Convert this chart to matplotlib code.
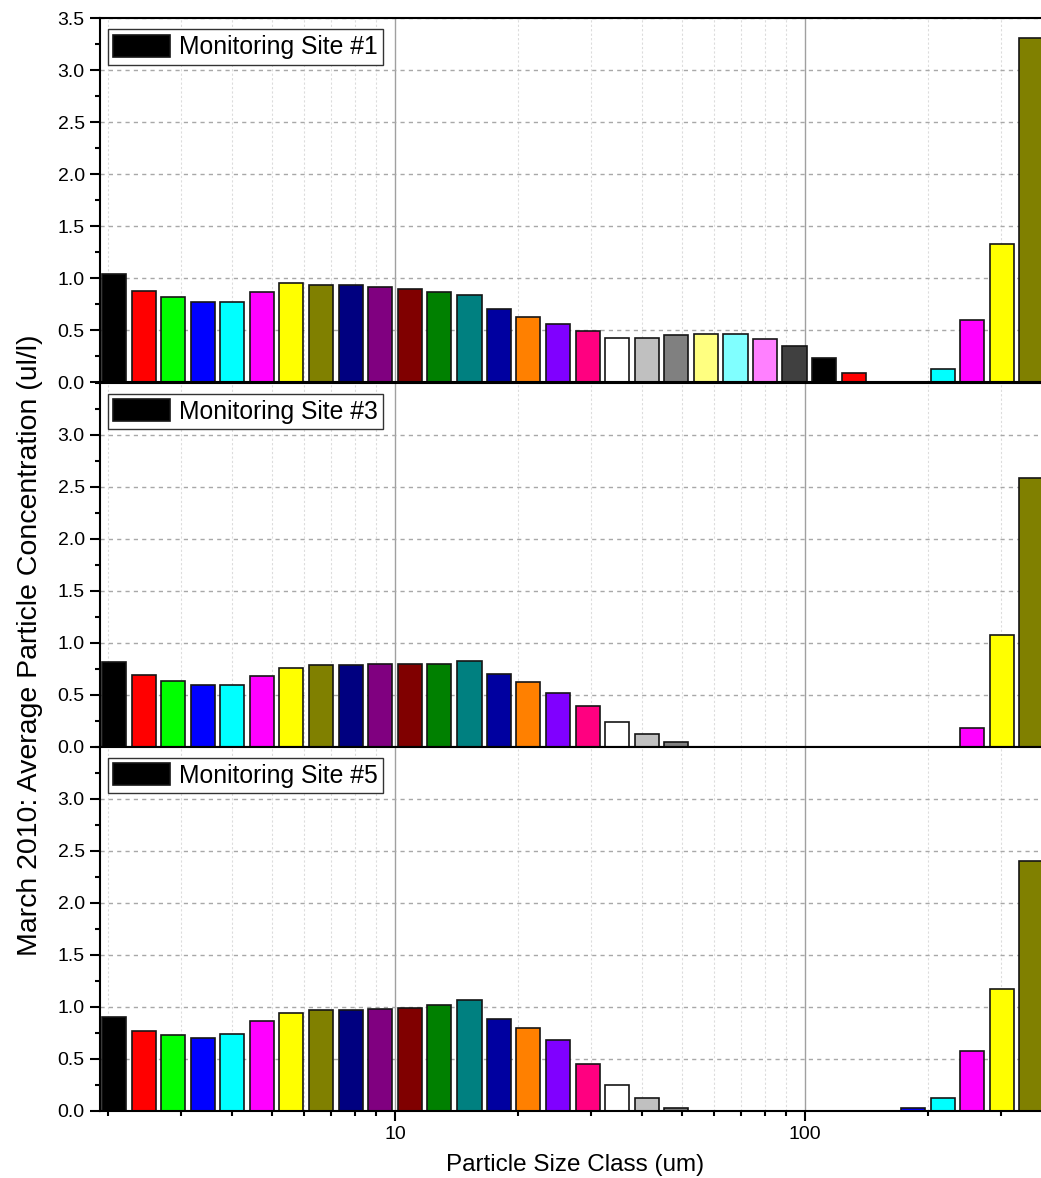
import numpy as np
import matplotlib.pyplot as plt
from matplotlib.ticker import MultipleLocator, LogLocator, NullFormatter

plt.rcParams['font.family'] = ['Liberation Sans', 'DejaVu Sans']

# size class midpoints (um)
size_um = [2.06, 2.44, 2.88, 3.40, 4.01, 4.74, 5.59, 6.61, 7.80, 9.21,
           10.9, 12.8, 15.2, 17.9, 21.1, 25.0, 29.5, 34.8, 41.1, 48.5,
           57.3, 67.7, 79.9, 94.3, 111, 132, 155, 183, 217, 256, 302, 356]

# average concentration (ul/l), March 2010
site1 = [1.04, 0.88, 0.82, 0.77, 0.77, 0.87, 0.95, 0.94, 0.94, 0.92,
         0.90, 0.87, 0.84, 0.70, 0.63, 0.56, 0.49, 0.43, 0.43, 0.45,
         0.46, 0.46, 0.42, 0.35, 0.23, 0.09, 0.0, 0.0, 0.13, 0.60, 1.33, 3.31]
site3 = [0.81, 0.69, 0.63, 0.59, 0.59, 0.68, 0.76, 0.79, 0.79, 0.80,
         0.80, 0.80, 0.82, 0.70, 0.62, 0.52, 0.39, 0.24, 0.12, 0.05,
         0.0, 0.0, 0.0, 0.0, 0.0, 0.0, 0.0, 0.0, 0.0, 0.18, 1.07, 2.58]
site5 = [0.90, 0.77, 0.73, 0.70, 0.74, 0.86, 0.94, 0.97, 0.97, 0.98,
         0.99, 1.02, 1.06, 0.88, 0.80, 0.68, 0.45, 0.25, 0.12, 0.03,
         0.0, 0.0, 0.0, 0.0, 0.0, 0.0, 0.0, 0.03, 0.12, 0.57, 1.17, 2.40]

sites = ["Monitoring Site #1", "Monitoring Site #3", "Monitoring Site #5"]

# Origin-style colour cycle
palette = ["#000000", "#FF0000", "#00FF00", "#0000FF", "#00FFFF", "#FF00FF",
           "#FFFF00", "#808000", "#000080", "#800080", "#800000", "#008000",
           "#008080", "#0000A0", "#FF8000", "#8000FF", "#FF0080", "#FFFFFF",
           "#C0C0C0", "#808080", "#FFFF80", "#80FFFF", "#FF80FF", "#404040"]
colors = [palette[i % len(palette)] for i in range(len(size_um))]

# bar width in decades
half = 0.0293
x = np.array(size_um)
left = x * 10 ** (-half)
width = x * 10 ** half - left

fig = plt.figure(figsize=(10.41, 11.78), dpi=100)

W, H = 1041, 1178
ax_left = 100 / W
ax_w = 950 / W
ax_h = 364 / H
bottoms = [1 - 382.3 / H, 1 - 746.7 / H, 1 - 1110.7 / H]

axes = []
for k, (name, vals) in enumerate(zip(sites, [site1, site3, site5])):
    ax = fig.add_axes([ax_left, bottoms[k], ax_w, ax_h])
    axes.append(ax)
    ax.bar(left, vals, width=width, align='edge', color=colors,
           edgecolor='#151515', linewidth=1.2, label=name, zorder=3)
    ax.set_xscale('log')
    ax.set_xlim(1.908, 396)
    ax.set_ylim(0, 3.5)

    if k == 0:
        ax.set_yticks(np.arange(0, 3.51, 0.5))
    else:
        ax.set_yticks(np.arange(0, 3.01, 0.5))
    ax.yaxis.set_minor_locator(MultipleLocator(0.25))
    ax.set_yticklabels(["%.1f" % t for t in ax.get_yticks()])

    ax.set_xticks([10, 100])
    ax.xaxis.set_minor_locator(LogLocator(base=10, subs=np.arange(2, 10)))
    ax.xaxis.set_minor_formatter(NullFormatter())
    if k == 2:
        ax.set_xticklabels(["10", "100"])
    else:
        ax.set_xticklabels([])

    ax.tick_params(axis='both', which='major', direction='out', length=7,
                   width=1.5, labelsize=14, pad=4)
    ax.tick_params(axis='both', which='minor', direction='out', length=3.5,
                   width=1.5)
    ax.tick_params(axis='y', which='both', right=False)
    ax.tick_params(axis='x', which='both', top=False)

    ax.grid(True, axis='y', which='major', color='#a8a8a8', linestyle=(0, (3, 3)),
            linewidth=1, zorder=0)
    ax.grid(True, axis='x', which='major', color='#a0a0a0', linestyle='-',
            linewidth=1, zorder=0)
    ax.grid(True, axis='x', which='minor', color='#dcdcdc', linestyle=(0, (2, 2)),
            linewidth=0.8, zorder=0)
    ax.set_axisbelow(True)

    for s in ['left', 'bottom', 'top']:
        ax.spines[s].set_linewidth(1.5)
        ax.spines[s].set_zorder(5)
    ax.spines['right'].set_visible(False)

    leg = ax.legend(loc='upper left', bbox_to_anchor=(8 / 950, 1 - 11 / 364),
                    borderaxespad=0, fontsize=17.8, fancybox=False, framealpha=1,
                    edgecolor='#333333', handlelength=2.3, handleheight=1.0,
                    handletextpad=0.35, borderpad=0.22)
    leg.get_frame().set_linewidth(1.0)

axes[2].set_xlabel("Particle Size Class (um)", fontsize=17.5, labelpad=8)
fig.text(30 / W, 1 - 645 / H, "March 2010: Average Particle Concentration (ul/l)",
         rotation=90, ha='center', va='center', fontsize=20.5)

fig.savefig("out.png", dpi=100)
